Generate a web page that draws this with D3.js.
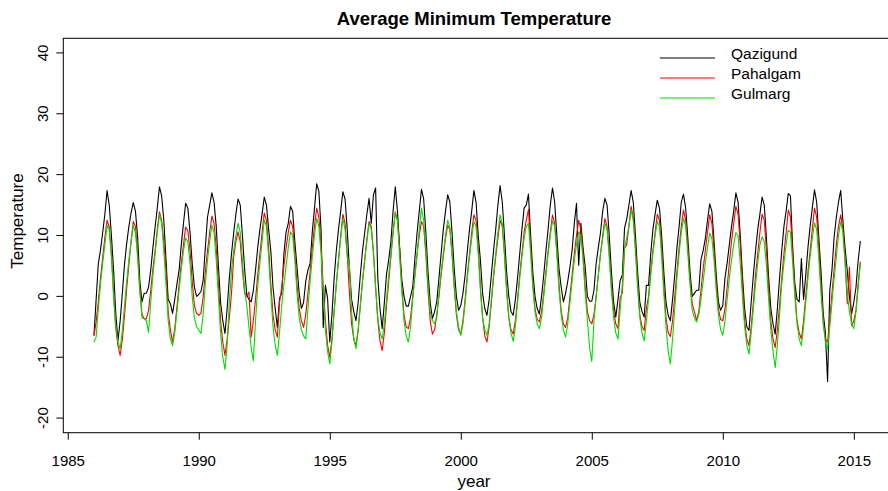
<!DOCTYPE html>
<html>
<head>
<meta charset="utf-8"/>
<style>
body {
  margin: 0;
  background: #fff;
  font-family: "Liberation Sans", Arial, sans-serif;
}
</style>
</head>
<body>
<script src="https://d3js.org/d3.v7.min.js"></script>
<script>
var width = 888, height = 491;

// monthly values, January 1986 .. April 2015
var startYear = 1986;

var qazigund = [
  -6.4, -0.5, 5.4, 7.6, 10.5, 13.5, 17.4, 15.0, 10.0, 4.3, -2.8, -7.3,
  -4.0, 0.5, 5.3, 8.7, 11.5, 13.7, 15.4, 14.0, 9.8, 2.6, -0.9, 0.5,
  0.5, 1.5, 4.3, 8.0, 11.4, 14.5, 18.0, 16.5, 12.5, 6.0, -0.5, -1.2,
  -2.8, -0.5, 2.0, 4.3, 8.5, 12.0, 15.3, 14.5, 10.5, 5.4, 1.5, 0.0,
  0.3, 0.8, 2.6, 8.0, 13.0, 15.0, 17.0, 15.5, 11.5, 5.0, -1.0, -4.0,
  -6.1, -2.0, 3.0, 7.0, 10.5, 13.5, 16.0, 15.0, 10.0, 4.5, 0.2, -0.5,
  -0.9, 1.0, 4.3, 8.0, 11.0, 13.5, 16.3, 15.0, 11.0, 7.5, 1.5, -2.0,
  -5.1, -0.3, 0.5, 7.0, 10.6, 12.0, 14.8, 14.0, 9.0, 4.8, 0.5, -2.0,
  -1.0, 2.5, 4.3, 5.4, 10.6, 14.5, 18.5, 17.3, 11.0, -5.1, 1.8, -0.3,
  -7.5, -3.0, 3.0, 7.5, 11.0, 14.0, 17.2, 16.0, 11.0, 4.5, -0.5, -2.5,
  -4.0, -1.0, 3.5, 7.5, 10.5, 13.5, 16.1, 12.0, 16.7, 17.8, 3.0, -2.0,
  -5.3, -1.0, 3.7, 6.0, 9.0, 14.0, 18.0, 14.0, 8.0, 2.7, 0.0, -1.6,
  -1.6, 0.0, 1.5, 6.3, 10.5, 14.0, 17.6, 16.0, 10.5, 4.0, -1.0, -3.7,
  -2.5, -0.9, 3.0, 7.0, 11.0, 14.0, 16.7, 15.5, 10.5, 4.5, 0.0, -2.3,
  -1.5, 0.5, 3.5, 7.5, 11.0, 14.0, 17.4, 15.5, 10.0, 5.9, 0.5, -2.0,
  -3.1, -0.5, 3.5, 7.5, 11.0, 15.0, 18.2, 15.5, 10.0, 4.0, 0.0, -2.5,
  -3.1, -0.5, 3.0, 7.0, 11.0, 14.5, 15.0, 16.8, 10.0, 4.0, 0.0, -2.0,
  -2.9, 0.0, 3.5, 7.5, 11.0, 15.0, 17.8, 15.5, 10.0, 4.5, 1.5, -0.9,
  0.5, 2.5, 4.8, 7.6, 12.0, 15.3, 5.1, 12.0, 8.0, 4.8, 0.0, -0.8,
  -0.8, 1.0, 5.4, 8.0, 10.5, 14.0, 16.1, 15.0, 10.0, 4.0, -1.0, -3.4,
  -0.5, 2.6, 3.5, 11.2, 12.7, 15.0, 17.4, 15.5, 10.0, 4.0, -1.0, -2.5,
  -3.4, 1.8, 1.8, 7.0, 11.0, 13.5, 15.8, 14.5, 10.0, 4.0, -1.0, -3.1,
  -4.0, -0.5, 3.5, 8.0, 11.5, 15.5, 16.8, 14.5, 9.5, 4.0, 0.0, 0.5,
  1.0, 1.0, 6.0, 7.5, 9.5, 12.5, 15.2, 14.0, 9.0, 3.5, -0.9, -2.3,
  -1.5, 3.0, 5.5, 8.5, 11.5, 14.0, 17.0, 15.5, 10.0, 3.5, -2.0, -5.0,
  -5.6, -1.0, 3.5, 7.5, 11.0, 13.5, 16.3, 15.0, 9.5, 3.0, -2.0, -4.5,
  -6.2, -2.0, 3.0, 7.5, 11.5, 14.0, 16.9, 16.5, 8.1, 2.1, -0.5, -0.9,
  6.2, -0.5, 3.5, 8.0, 11.5, 14.5, 17.5, 15.5, 9.5, 4.0, -2.8, -6.0,
  -14.0, 1.0, 4.3, 9.8, 13.0, 15.5, 17.4, 12.5, 8.0, 4.3, 0.0, -2.9,
  -1.0, 1.5, 5.9, 9.1
];

var pahalgam = [
  -6.5, -4.2, -0.8, 3.0, 6.4, 9.7, 12.5, 11.4, 7.0, 0.3, -5.3, -8.1,
  -9.7, -7.1, -3.1, 1.3, 5.3, 9.0, 12.3, 11.5, 7.0, 1.0, -2.9, -3.7,
  -3.7, -2.3, 1.0, 4.5, 7.5, 11.0, 13.9, 12.5, 9.0, 4.3, -2.5, -5.5,
  -7.5, -5.3, -1.8, 2.0, 5.4, 8.5, 11.4, 10.8, 7.5, 2.5, -1.5, -2.8,
  -3.1, -2.8, -0.1, 4.0, 7.5, 10.5, 13.2, 12.0, 8.0, 2.0, -4.0, -7.5,
  -9.7, -7.0, -3.5, 0.5, 6.5, 9.0, 10.6, 9.0, 4.3, 0.5, 0.0, 0.7,
  -6.7, -4.0, -0.5, 3.5, 7.0, 10.5, 13.7, 12.5, 8.0, 2.0, -3.0, -5.5,
  -6.7, -1.0, 1.5, 5.0, 8.0, 10.5, 12.5, 11.5, 7.0, 2.0, -2.0, -4.0,
  -5.1, -3.0, 0.5, 4.0, 8.0, 11.5, 14.5, 13.0, 8.5, 1.5, -4.0, -8.0,
  -10.0, -7.0, -2.5, 2.0, 6.0, 10.0, 13.5, 12.0, 7.0, 0.5, -4.5, -7.0,
  -8.1, -5.5, -1.5, 2.5, 6.0, 9.5, 12.3, 11.5, 7.5, 1.5, -4.0, -7.3,
  -8.9, -6.0, -1.5, 2.5, 6.5, 10.5, 13.9, 12.5, 8.0, 1.5, -3.0, -5.0,
  -5.3, -3.5, 0.0, 3.5, 7.0, 10.0, 12.3, 11.5, 7.0, 1.0, -4.0, -6.2,
  -5.5, -3.0, 0.0, 3.5, 6.5, 9.5, 11.7, 11.0, 7.0, 1.5, -3.0, -5.5,
  -6.2, -4.0, -0.5, 3.5, 7.0, 10.5, 13.4, 12.5, 8.0, 1.5, -3.5, -6.5,
  -7.5, -5.0, -1.0, 3.0, 6.5, 9.5, 12.5, 11.5, 7.0, 1.0, -3.5, -5.5,
  -6.2, -4.0, -0.5, 3.5, 7.0, 10.5, 12.5, 14.3, 8.0, 2.0, -2.0, -3.8,
  -4.2, -2.5, 0.5, 4.0, 7.5, 10.5, 13.4, 12.0, 7.5, 2.0, -2.5, -4.5,
  -5.1, -3.5, 0.0, 3.5, 7.0, 10.0, 12.5, 11.0, 7.0, 1.5, -2.5, -4.0,
  -4.5, -3.0, 0.0, 3.5, 7.0, 10.0, 12.8, 11.5, 7.0, 1.5, -2.5, -4.5,
  -5.3, -0.1, 0.5, 7.9, 8.5, 11.5, 14.8, 13.0, 8.0, 2.0, -3.0, -5.0,
  -5.6, -2.0, 0.0, 4.0, 7.5, 10.5, 13.5, 12.5, 8.0, 1.5, -3.5, -6.0,
  -6.6, -4.0, 0.0, 4.0, 8.0, 11.5, 14.2, 12.5, 8.0, 2.5, -1.2, -2.5,
  -4.0, -2.5, 1.0, 4.5, 7.5, 10.5, 13.4, 12.0, 7.5, 2.0, -2.0, -3.8,
  -4.0, -2.0, 1.5, 5.5, 9.0, 12.0, 14.8, 13.5, 8.5, 2.0, -4.0, -7.0,
  -8.1, -5.0, -1.0, 3.5, 7.0, 10.5, 13.5, 12.5, 7.5, 1.0, -4.0, -7.0,
  -8.4, -5.5, -1.5, 3.0, 7.0, 10.5, 14.2, 13.0, 7.0, 1.0, -4.0, -6.0,
  -7.0, -4.0, 0.0, 4.0, 7.5, 11.0, 14.5, 13.0, 8.0, 1.5, -4.0, -7.0,
  -7.5, -3.7, 0.5, 4.5, 8.5, 11.5, 13.4, 11.0, 6.0, -1.2, 4.8, -4.8,
  -4.0, -2.3, 2.1, 5.7
];

var gulmarg = [
  -7.5, -6.7, -2.0, 2.0, 5.5, 8.5, 11.7, 11.0, 6.5, 0.0, -5.0, -7.5,
  -8.6, -5.6, -1.5, 2.5, 6.0, 9.0, 11.7, 10.5, 6.5, 1.0, -3.5, -3.7,
  -4.0, -5.9, -1.0, 3.5, 7.0, 10.5, 13.5, 12.0, 7.5, 2.0, -4.0, -7.0,
  -8.1, -6.0, -2.5, 1.0, 4.5, 7.5, 9.6, 9.0, 5.5, 0.0, -3.5, -5.0,
  -5.5, -6.1, -3.0, 2.0, 6.0, 9.0, 11.7, 10.5, 6.0, 0.0, -6.0, -10.0,
  -12.0, -8.0, -1.0, 4.3, 7.5, 10.0, 12.0, 10.5, 6.0, 1.0, -1.5, -5.1,
  -8.4, -10.6, -4.0, 1.5, 5.5, 9.0, 12.6, 11.5, 6.5, 0.5, -5.0, -8.0,
  -9.7, -5.9, -1.5, 2.0, 5.0, 8.0, 10.6, 10.0, 6.0, 0.5, -3.5, -5.5,
  -6.5, -7.0, -2.0, 2.5, 6.5, 10.0, 12.8, 11.5, 7.0, 0.5, -5.5, -9.0,
  -11.1, -7.5, -2.5, 2.0, 6.0, 9.5, 12.8, 11.0, 6.5, 5.1, -2.5, -7.0,
  -8.6, -5.5, -1.5, 2.5, 6.0, 9.0, 12.0, 11.0, 7.0, 1.5, -3.5, -6.0,
  -7.0, -4.5, -0.5, 3.5, 7.0, 10.5, 13.7, 12.5, 6.5, 1.0, -4.0, -6.5,
  -7.5, -5.0, -0.5, 3.5, 7.0, 11.0, 14.5, 12.5, 7.5, 1.5, -2.5, -4.0,
  -4.5, -3.5, 0.5, 4.0, 7.0, 10.0, 12.5, 11.5, 7.0, 2.0, -2.5, -5.0,
  -6.4, -4.5, -1.0, 3.0, 6.5, 9.5, 12.3, 11.5, 7.0, 1.0, -3.5, -5.5,
  -6.4, -4.5, -0.5, 3.5, 7.0, 10.5, 13.4, 12.0, 7.0, 1.0, -3.5, -6.0,
  -7.4, -5.0, -1.0, 3.0, 6.5, 9.5, 11.5, 12.0, 7.0, 1.5, -2.5, -4.5,
  -5.3, -3.5, 0.0, 3.5, 7.0, 10.0, 12.4, 11.5, 7.0, 1.0, -3.0, -5.5,
  -6.7, -4.5, -1.0, 2.5, 6.0, 8.5, 10.6, 10.0, 6.0, 0.5, -4.0, -8.4,
  -10.7, -4.0, 0.0, 3.5, 7.0, 9.5, 12.0, 11.0, 6.5, 1.0, -3.5, -6.0,
  -7.0, -2.2, 2.0, 8.0, 9.6, 11.5, 14.2, 12.5, 7.5, 1.5, -3.5, -6.0,
  -7.3, -4.0, -0.5, 3.5, 7.0, 10.0, 12.3, 11.5, 6.5, 0.5, -5.0, -9.0,
  -11.1, -7.0, -2.0, 3.0, 7.0, 10.5, 12.8, 11.5, 7.0, 2.0, -2.3, -3.5,
  -4.2, -3.0, -0.5, 2.5, 5.5, 8.0, 10.4, 9.5, 6.0, 1.0, -3.0, -5.5,
  -6.4, -4.0, -0.5, 3.0, 6.0, 8.5, 10.5, 10.0, 5.5, 0.0, -5.0, -8.0,
  -9.5, -6.0, -2.0, 2.0, 5.5, 8.4, 9.8, 9.0, 5.0, -0.5, -5.5, -9.0,
  -11.7, -8.0, -3.0, 2.0, 5.5, 8.5, 10.9, 10.5, 5.5, 0.0, -4.5, -7.0,
  -8.1, -5.0, -1.0, 3.0, 6.5, 9.5, 12.1, 11.0, 6.0, 0.5, -4.5, -7.5,
  -8.6, -5.0, -1.0, 3.0, 6.5, 10.0, 12.3, 10.5, 5.5, 0.5, -2.5, -4.5,
  -5.3, -2.5, 1.5, 5.4
];

var seriesNames = ["Qazigund", "Pahalgam", "Gulmarg"];
var seriesColors = ["#000000", "#ff0000", "#00dd00"];
var xTicks = [1985, 1990, 1995, 2000, 2005, 2010, 2015];
var yTicks = [-20, -10, 0, 10, 20, 30, 40];

var plotLeft = 63.3, plotRight = 891, plotTop = 38.3, plotBottom = 432.7;

var x = d3.scaleLinear()
    .domain([1984.83, 2016.42])
    .range([plotLeft, plotRight]);

var y = d3.scaleLinear()
    .domain([-22.4, 42.4])
    .range([plotBottom, plotTop]);

var svg = d3.select("body").append("svg")
    .attr("width", width)
    .attr("height", height)
    .style("display", "block");

var line = d3.line()
    .x(function(d, i){ return x(startYear + i / 12); })
    .y(function(d){ return y(d); });

var allSeries = [qazigund, pahalgam, gulmarg];

svg.selectAll(".series")
    .data(allSeries)
  .enter().append("path")
    .attr("class", "series")
    .attr("d", line)
    .attr("fill", "none")
    .attr("stroke", function(d, i){ return seriesColors[i]; })
    .attr("stroke-width", 1.1)
    .attr("stroke-linejoin", "round");

// box
svg.append("rect")
    .attr("x", plotLeft)
    .attr("y", plotTop)
    .attr("width", plotRight - plotLeft)
    .attr("height", plotBottom - plotTop)
    .attr("fill", "none")
    .attr("stroke", "#000")
    .attr("stroke-width", 1);

var xAxis = svg.append("g")
    .attr("transform", "translate(0," + plotBottom + ")")
    .call(d3.axisBottom(x).tickValues(xTicks).tickSize(7).tickPadding(16).tickFormat(d3.format("d")));

var yAxis = svg.append("g")
    .attr("transform", "translate(" + plotLeft + ",0)")
    .call(d3.axisLeft(y).tickValues(yTicks).tickSize(7).tickFormat(function(d){ return d; }));

[xAxis, yAxis].forEach(function(a){
  a.select(".domain").remove();
  a.selectAll("line").attr("stroke", "#000");
  a.selectAll("text")
      .attr("fill", "#000")
      .style("font-size", "15px")
      .style("font-family", "'Liberation Sans', Arial, sans-serif");
});

yAxis.selectAll("text")
    .attr("x", null)
    .attr("dy", null)
    .attr("text-anchor", "middle")
    .attr("transform", function(d){ return "translate(-15," + y(d) + ") rotate(-90)"; })
    .attr("y", 0);
yAxis.selectAll(".tick").attr("transform", null);
yAxis.selectAll(".tick line")
    .attr("transform", function(d){ return "translate(0," + y(d) + ")"; });

svg.append("text")
    .attr("x", 474)
    .attr("y", 25)
    .attr("text-anchor", "middle")
    .style("font-size", "18.5px")
    .style("font-weight", "bold")
    .text("Average Minimum Temperature");

svg.append("text")
    .attr("x", 474)
    .attr("y", 487)
    .attr("text-anchor", "middle")
    .style("font-size", "17px")
    .text("year");

svg.append("text")
    .attr("transform", "translate(23,221) rotate(-90)")
    .attr("text-anchor", "middle")
    .style("font-size", "17px")
    .text("Temperature");

var legend = svg.append("g");
seriesNames.forEach(function(name, i){
  var ly = 58 + i * 20;
  legend.append("line")
      .attr("x1", 660).attr("x2", 715)
      .attr("y1", ly).attr("y2", ly)
      .attr("stroke", seriesColors[i])
      .attr("stroke-width", 1.1);
  legend.append("text")
      .attr("x", 731)
      .attr("y", ly + 1)
      .style("font-size", "15.5px")
      .text(name);
});
</script>
</body>
</html>
